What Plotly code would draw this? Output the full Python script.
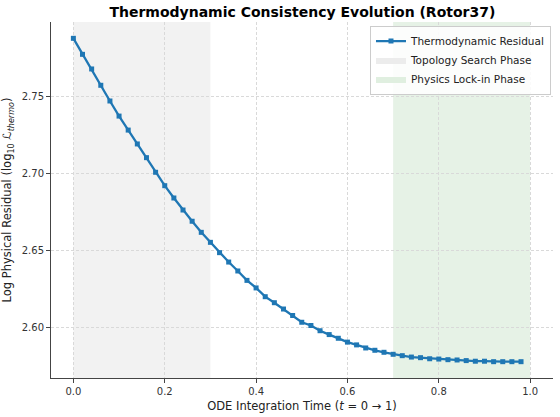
import plotly.graph_objects as go

t_values = [0.00, 0.02, 0.04, 0.06, 0.08, 0.10, 0.12, 0.14, 0.16, 0.18,
            0.20, 0.22, 0.24, 0.26, 0.28, 0.30, 0.32, 0.34, 0.36, 0.38,
            0.40, 0.42, 0.44, 0.46, 0.48, 0.50, 0.52, 0.54, 0.56, 0.58,
            0.60, 0.62, 0.64, 0.66, 0.68, 0.70, 0.72, 0.74, 0.76, 0.78,
            0.80, 0.82, 0.84, 0.86, 0.88, 0.90, 0.92, 0.94, 0.96, 0.98]
residual = [2.7878, 2.7774, 2.7679, 2.7573, 2.7471, 2.7373, 2.7282, 2.7192, 2.7103, 2.7008,
            2.6921, 2.6841, 2.6763, 2.6690, 2.6618, 2.6553, 2.6486, 2.6425, 2.6367, 2.6306,
            2.6257, 2.6200, 2.6161, 2.6120, 2.6078, 2.6034, 2.6013, 2.5979, 2.5954, 2.5930,
            2.5905, 2.5887, 2.5867, 2.5852, 2.5839, 2.5826, 2.5817, 2.5808, 2.5804, 2.5797,
            2.5795, 2.5791, 2.5789, 2.5785, 2.5781, 2.5781, 2.5778, 2.5778, 2.5778, 2.5778]

topology_phase = [0.0, 0.3]
lockin_phase = [0.7, 1.0]
x_ticks = [0.0, 0.2, 0.4, 0.6, 0.8, 1.0]
y_ticks = [2.60, 2.65, 2.70, 2.75]

FONT = "DejaVu Sans"
BLUE = "#1f77b4"
GRAY_FILL = "#f2f2f2"
GREEN_FILL = "#e6f2e6"

fig = go.Figure()
fig.add_trace(go.Scatter(
    x=t_values, y=residual, mode="lines+markers",
    name="Thermodynamic Residual",
    line=dict(color=BLUE, width=2.3),
    marker=dict(symbol="square", size=5, color=BLUE),
    legendrank=1,
))

# phase spans (drawn as shapes), legend entries as fill traces
fig.add_shape(type="rect", xref="x", yref="paper",
              x0=topology_phase[0], x1=topology_phase[1], y0=0, y1=1,
              fillcolor=GRAY_FILL, line=dict(width=0), layer="below")
fig.add_shape(type="rect", xref="x", yref="paper",
              x0=lockin_phase[0], x1=lockin_phase[1], y0=0, y1=1,
              fillcolor=GREEN_FILL, line=dict(width=0), layer="below")
fig.add_trace(go.Scatter(x=[None], y=[None], mode="lines", fill="toself",
                         fillcolor="#ececec", line=dict(width=0, color="#ececec"),
                         name="Topology Search Phase", legendrank=2, hoverinfo="skip"))
fig.add_trace(go.Scatter(x=[None], y=[None], mode="lines", fill="toself",
                         fillcolor="#e0efe0", line=dict(width=0, color="#e0efe0"),
                         name="Physics Lock-in Phase", legendrank=3, hoverinfo="skip"))

axis_common = dict(
    showline=True, linecolor="#444", linewidth=1,
    ticks="outside", ticklen=4, tickcolor="#444", tickwidth=1,
    showgrid=True, gridcolor="#d9d9d9", griddash="3px,2px", gridwidth=0.8,
    zeroline=False, mirror=False,
    tickfont=dict(family=FONT, size=10, color="#333"),
)

fig.update_layout(
    width=560, height=417,
    margin=dict(l=51, r=7, t=22, b=39),
    paper_bgcolor="white", plot_bgcolor="white",
    font=dict(family=FONT, color="#222"),
    title=dict(text="<b>Thermodynamic Consistency Evolution (Rotor37)</b>",
               x=0.54, xanchor="center", y=0.97, yanchor="middle",
               font=dict(family=FONT, size=14, color="black")),
    xaxis=dict(range=[-0.049, 1.05], tickvals=x_ticks, tickformat=".1f",
               title=dict(text="ODE Integration Time (<i>t</i> = 0 → 1)",
                          font=dict(family=FONT, size=11.5, color="#222"), standoff=5),
               **axis_common),
    yaxis=dict(range=[2.5672, 2.7984], tickvals=y_ticks, tickformat=".2f",
               title=dict(text="Log Physical Residual (log<sub>10</sub> <i>ℒ</i><sub><i>thermo</i></sub>)",
                          font=dict(family=FONT, size=11.5, color="#222"), standoff=7),
               **axis_common),
    legend=dict(x=0.996, y=0.99, xanchor="right", yanchor="top",
                bgcolor="rgba(255,255,255,0.85)", bordercolor="#cccccc", borderwidth=1,
                font=dict(family=FONT, size=10.5, color="#222"),
                tracegroupgap=0, itemwidth=30),
    showlegend=True,
)

fig.write_html("out.html")
